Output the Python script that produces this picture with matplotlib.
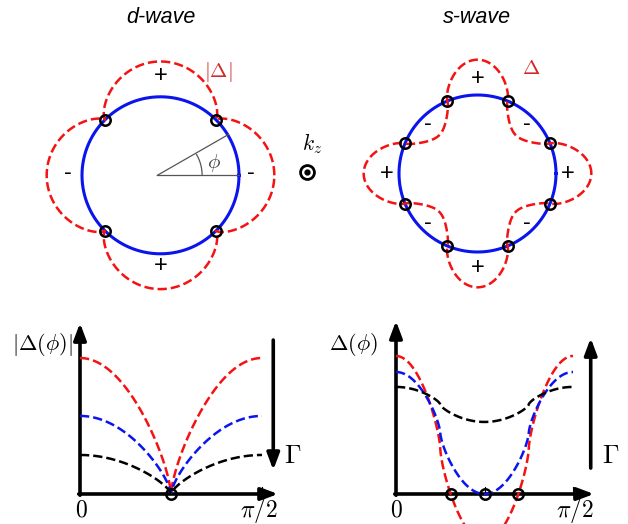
import numpy as np
import matplotlib
matplotlib.use('Agg')
import matplotlib.pyplot as plt

plt.rcParams['mathtext.fontset'] = 'cm'
plt.rcParams['font.family'] = ['Liberation Sans', 'DejaVu Sans']

W, H = 628, 524

# shape of the schematic gap curves: sgn(c)*|c|^p
p = 0.7
# polar sketches: largest lobe radius relative to the Fermi circle
lobe_max = 1.45
d_nodes_deg = [45, 135, 225, 315]
s_nodes_deg = [22.5, 67.5, 112.5, 157.5, 202.5, 247.5, 292.5, 337.5]

# lower panels, one entry per Gamma (red, blue, black)
curve_colors = ['#f51212', '#0a14ee', 'black']
d_amp = [1.0, 0.574, 0.287]
s_offset = [0.329, 0.442, 0.649]
s_amp = [0.671, 0.442, 0.127]

red = '#f51212'
blue = '#0a14ee'
label_red = '#d02828'
grey = '#555555'


def shape(c):
    return np.sign(c) * np.abs(c) ** p


def px_axes(x0, y0, x1, y1):
    # axes box given in pixels, y measured from the top
    a = fig.add_axes([x0 / W, 1 - y1 / H, (x1 - x0) / W, (y1 - y0) / H])
    a.axis('off')
    return a


def arrow(ax, start, end, lw=2.6):
    ax.annotate('', xy=end, xytext=start, annotation_clip=False,
                arrowprops=dict(arrowstyle='-|>,head_length=0.4,head_width=0.15',
                                lw=lw, color='k', shrinkA=0, shrinkB=0,
                                mutation_scale=25))


def nodes(ax, x, y):
    ax.plot(x, y, 'o', mfc='none', mec='k', ms=7.5, mew=1.8, zorder=5, clip_on=False)


fig = plt.figure(figsize=(W / 100, H / 100), dpi=100)

phi = np.linspace(0, 2 * np.pi, 1441)
half = np.linspace(0, np.pi / 2, 600)
lim = 130 / 78.5

# ---------------- d-wave polar sketch
ax = px_axes(30.5, 45.3, 290.5, 305.3)
ax.set_xlim(-lim, lim)
ax.set_ylim(-lim, lim)
ax.plot(np.cos(phi), np.sin(phi), color=blue, lw=2.2)
r = lobe_max ** shape(np.abs(np.cos(2 * phi)))
ax.plot(r * np.cos(phi), r * np.sin(phi), '--', color=red, lw=1.8)
nd = np.radians(d_nodes_deg)
nodes(ax, np.cos(nd), np.sin(nd))

# angle phi
a30 = np.radians(30)
ax.plot([-0.04, 1], [0, 0], color=grey, lw=0.9)
ax.plot([-0.04, np.cos(a30)], [0, np.sin(a30) * 1.04], color=grey, lw=0.9)
arc = np.linspace(0, a30, 50)
ax.plot(0.53 * np.cos(arc), 0.53 * np.sin(arc), color=grey, lw=0.9)
ax.text(0.68, 0.16, r'$\phi$', color='#444444', fontsize=15, ha='center', va='center')

ax.text(0, 1.27, '+', fontsize=17, ha='center', va='center')
ax.text(0, -1.16, '+', fontsize=17, ha='center', va='center')
ax.text(-1.18, 0.03, '-', fontsize=17, ha='center', va='center')
ax.text(1.15, 0.03, '-', fontsize=17, ha='center', va='center')
ax.text(0.73, 1.31, r'$|\Delta|$', color=label_red, fontsize=15, ha='center', va='center')
ax.text(0, 1.94, 'd-wave', fontsize=15.5, style='italic', ha='center', va='baseline')

# k_z out of plane
ax.plot(1.866, 0.042, 'o', mfc='none', mec='k', ms=10, mew=2, clip_on=False)
ax.plot(1.866, 0.042, 'o', color='k', ms=3.5, clip_on=False)
ax.text(1.93, 0.40, r'$k_z$', fontsize=15.5, ha='center', va='center')

# ---------------- s-wave polar sketch
ax = px_axes(347.5, 43.5, 607.5, 303.5)
ax.set_xlim(-lim, lim)
ax.set_ylim(-lim, lim)
ax.plot(np.cos(phi), np.sin(phi), color=blue, lw=2.2)
r = lobe_max ** shape(np.cos(4 * phi))
ax.plot(r * np.cos(phi), r * np.sin(phi), '--', color=red, lw=1.8)
sn = np.radians(s_nodes_deg)
nodes(ax, np.cos(sn), np.sin(sn))

for x, y in [(0, 1.2), (0, -1.2), (-1.16, 0), (1.15, 0)]:
    ax.text(x, y, '+', fontsize=17, ha='center', va='center')
for x, y in [(-0.63, 0.63), (0.63, 0.63), (-0.63, -0.63), (0.63, -0.63)]:
    ax.text(x, y, '-', fontsize=17, ha='center', va='center')
ax.text(0.69, 1.34, r'$\Delta$', color=label_red, fontsize=15, ha='center', va='center')
ax.text(0, 1.917, 's-wave', fontsize=15.5, style='italic', ha='center', va='baseline')

# ---------------- d-wave |Delta(phi)|
ax = px_axes(80, 358, 262, 494)
ax.set_xlim(0, np.pi / 2)
ax.set_ylim(0, 1)
arrow(ax, (0, -0.009), (0, 1.257))
arrow(ax, (-0.011, 0), (1.709, 0))
arrow(ax, (1.668, 1.132), (1.668, 0.176))
ax.plot([np.pi / 2] * 2, [0, 0.05], color='k', lw=0.8, clip_on=False)
for amp, col in zip(d_amp, curve_colors):
    ax.plot(half, amp * shape(np.abs(np.cos(2 * half))), '--', color=col,
            lw=1.8, clip_on=False, zorder=3)
nodes(ax, [np.pi / 4], [0])
ax.text(-0.06, 1.096, r'$|\Delta(\phi)|$', fontsize=16, ha='right', va='center')
ax.text(0.015, -0.118, r'$0$', fontsize=17, ha='center', va='center')
ax.text(1.545, -0.118, r'$\pi/2$', fontsize=17, ha='center', va='center')
ax.text(1.834, 0.279, r'$\Gamma$', fontsize=19, ha='center', va='center')

# ---------------- s-wave Delta(phi)
ax = px_axes(396, 356, 573, 494)
ax.set_xlim(0, np.pi / 2)
ax.set_ylim(0, 1)
arrow(ax, (0, -0.009), (0, 1.254))
arrow(ax, (-0.011, 0), (1.757, 0))
arrow(ax, (1.728, 0.188), (1.728, 1.13))
for xt in [np.pi / 4, np.pi / 2]:
    ax.plot([xt] * 2, [0, 0.05], color='k', lw=0.8, clip_on=False)
for off, amp, col in zip(s_offset, s_amp, curve_colors):
    ax.plot(half, off + amp * shape(np.cos(4 * half)), '--', color=col,
            lw=1.8, clip_on=False, zorder=3)
# zeros of the red curve and the minimum of the blue one
c_node = -(s_offset[0] / s_amp[0]) ** (1 / p)
phi_node = np.arccos(c_node) / 4
nodes(ax, [phi_node, np.pi / 4, np.pi / 2 - phi_node], [0, 0, 0])
ax.text(-0.16, 1.08, r'$\Delta(\phi)$', fontsize=16, ha='right', va='center')
ax.text(0, -0.116, r'$0$', fontsize=17, ha='center', va='center')
ax.text(1.588, -0.116, r'$\pi/2$', fontsize=17, ha='center', va='center')
ax.text(1.908, 0.275, r'$\Gamma$', fontsize=19, ha='center', va='center')

fig.savefig('out.png', dpi=100)
